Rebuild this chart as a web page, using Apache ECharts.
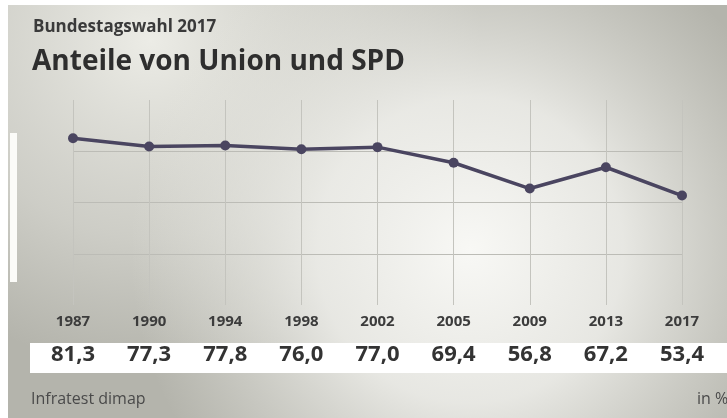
<!DOCTYPE html>
<html>
<head>
<meta charset="utf-8">
<script src="https://cdn.jsdelivr.net/npm/echarts@6/dist/echarts.min.js"></script>
<style>
html,body{margin:0;padding:0;background:#fff;}
#c{width:727px;height:418px;}
</style>
</head>
<body>
<div id="c"></div>
<script>
const years = ['1987','1990','1994','1998','2002','2005','2009','2013','2017'];
const shares = [81.3, 77.3, 77.8, 76.0, 77.0, 69.4, 56.8, 67.2, 53.4];
const yTicks = [0, 25, 50, 75, 100];

const valueLabels = shares.map(v => v.toFixed(1).replace('.', ','));
const FONT = '"Open Sans", "Noto Sans", sans-serif';

const chart = echarts.init(document.getElementById('c'), null, {renderer: 'canvas'});
chart.setOption({
  animation: false,
  backgroundColor: '#b4b4ac',
  graphic: [
    {type: 'rect', z: -100, shape: {x: 0, y: 0, width: 727, height: 418},
      style: {fill: {type: 'radial', global: true, x: 150, y: 40, r: 330,
        colorStops: [{offset: 0, color: 'rgba(236,236,230,1)'}, {offset: 0.6, color: 'rgba(222,222,216,0.6)'}, {offset: 1, color: 'rgba(222,222,216,0)'}]}}},
    {type: 'rect', z: -99, shape: {x: 0, y: 0, width: 727, height: 418},
      style: {fill: {type: 'radial', global: true, x: 470, y: 250, r: 340,
        colorStops: [{offset: 0, color: 'rgba(248,248,245,1)'}, {offset: 0.45, color: 'rgba(240,240,236,0.85)'}, {offset: 1, color: 'rgba(230,230,224,0)'}]}}},
    {type: 'rect', z: -98, shape: {x: 0, y: 0, width: 727, height: 5}, style: {fill: '#ffffff'}},
    {type: 'rect', z: -98, shape: {x: 0, y: 0, width: 8, height: 418}, style: {fill: '#ffffff'}},
    {type: 'rect', z: -98, shape: {x: 10, y: 133, width: 7, height: 149}, style: {fill: '#fbfbf8'}},
    {type: 'rect', z: -98, shape: {x: 30, y: 343, width: 697, height: 30}, style: {fill: '#ffffff'}},
    {type: 'text', x: 33, y: 27, style: {text: 'Bundestagswahl 2017', font: 'bold 17px ' + FONT, fill: '#3a3a3a', verticalAlign: 'middle'}},
    {type: 'text', x: 32, y: 62, style: {text: 'Anteile von Union und SPD', font: 'bold 28px ' + FONT, fill: '#2e2e2e', verticalAlign: 'middle'}},
    {type: 'text', x: 31, y: 399, style: {text: 'Infratest dimap', font: '16px ' + FONT, fill: '#4a4a4a', verticalAlign: 'middle'}},
    {type: 'text', x: 697, y: 399, style: {text: 'in %', font: '16px ' + FONT, fill: '#4a4a4a', verticalAlign: 'middle'}}
  ],
  grid: {left: 73, right: 45, top: 100, height: 205, containLabel: false},
  xAxis: [
    {
      type: 'category', data: years, boundaryGap: false,
      axisLine: {show: false}, axisTick: {show: false},
      splitLine: {show: true, lineStyle: {color: '#c4c4be', width: 1}},
      axisLabel: {margin: 9, fontSize: 15, fontWeight: 'bold', color: '#3c3c3c', fontFamily: FONT}
    },
    {
      type: 'category', data: valueLabels, boundaryGap: false, position: 'bottom', offset: 33,
      axisLine: {show: false}, axisTick: {show: false}, splitLine: {show: false},
      axisLabel: {margin: 6, fontSize: 22, fontWeight: 'bold', color: '#333333', fontFamily: FONT}
    }
  ],
  yAxis: {
    type: 'value', min: yTicks[0], max: yTicks[yTicks.length - 1], interval: 25,
    axisLine: {show: false}, axisTick: {show: false}, axisLabel: {show: false},
    splitLine: {show: true, showMinLine: false, showMaxLine: false, lineStyle: {color: '#bcbcb6', width: 1}}
  },
  series: [{
    type: 'line', data: shares, xAxisIndex: 0,
    symbol: 'circle', symbolSize: 10,
    lineStyle: {color: '#4a4560', width: 3.5},
    itemStyle: {color: '#4a4560'}
  }]
});
</script>
</body>
</html>
